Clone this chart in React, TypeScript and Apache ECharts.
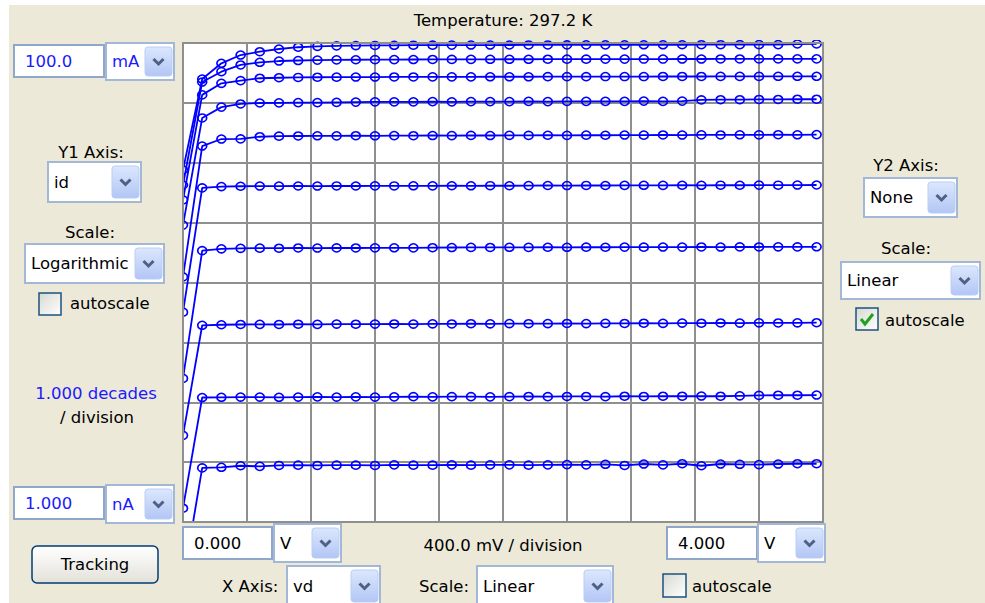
import React, { useEffect, useRef } from 'react';
import * as echarts from 'echarts';

// Drain voltage sweep (V)
const VD = [0, 0.12, 0.24, 0.36, 0.48, 0.6, 0.72, 0.84, 0.96, 1.08, 1.2, 1.32, 1.44, 1.56, 1.68, 1.8, 1.92, 2.04, 2.16, 2.28, 2.4, 2.52, 2.64, 2.76, 2.88, 3.0, 3.12, 3.24, 3.36, 3.48, 3.6, 3.72, 3.84, 3.96];

// Drain current (A), one array per gate step, bottom to top
const ID1 = [1.0e-10, 8.0e-9, 8.2e-9, 8.7e-9, 8.5e-9, 8.8e-9, 8.9e-9, 8.8e-9, 8.9e-9, 8.9e-9, 8.8e-9, 9.0e-9, 8.9e-9, 8.9e-9, 9.0e-9, 8.9e-9, 9.0e-9, 9.0e-9, 8.9e-9, 9.0e-9, 9.1e-9, 9.0e-9, 9.2e-9, 8.8e-9, 9.3e-9, 9.0e-9, 9.4e-9, 8.7e-9, 9.3e-9, 9.2e-9, 9.1e-9, 9.3e-9, 9.4e-9, 9.4e-9];
const ID2 = [1.7e-9, 1.20e-7, 1.21e-7, 1.22e-7, 1.22e-7, 1.21e-7, 1.22e-7, 1.23e-7, 1.22e-7, 1.23e-7, 1.22e-7, 1.23e-7, 1.24e-7, 1.23e-7, 1.24e-7, 1.24e-7, 1.23e-7, 1.24e-7, 1.25e-7, 1.24e-7, 1.25e-7, 1.25e-7, 1.24e-7, 1.26e-7, 1.25e-7, 1.26e-7, 1.26e-7, 1.27e-7, 1.26e-7, 1.28e-7, 1.30e-7, 1.31e-7, 1.31e-7, 1.32e-7];
const ID3 = [2.8e-8, 1.93e-6, 1.97e-6, 1.99e-6, 2.00e-6, 1.99e-6, 2.01e-6, 2.00e-6, 2.02e-6, 2.01e-6, 2.02e-6, 2.03e-6, 2.02e-6, 2.04e-6, 2.03e-6, 2.05e-6, 2.04e-6, 2.06e-6, 2.05e-6, 2.06e-6, 2.07e-6, 2.06e-6, 2.08e-6, 2.07e-6, 2.09e-6, 2.08e-6, 2.10e-6, 2.09e-6, 2.11e-6, 2.10e-6, 2.12e-6, 2.11e-6, 2.12e-6, 2.13e-6];
const ID4 = [2.5e-7, 3.40e-5, 3.65e-5, 3.72e-5, 3.75e-5, 3.74e-5, 3.77e-5, 3.76e-5, 3.78e-5, 3.77e-5, 3.79e-5, 3.80e-5, 3.79e-5, 3.81e-5, 3.84e-5, 3.86e-5, 3.85e-5, 3.87e-5, 3.86e-5, 3.88e-5, 3.87e-5, 3.89e-5, 3.88e-5, 3.90e-5, 3.89e-5, 3.91e-5, 3.90e-5, 3.92e-5, 3.91e-5, 3.93e-5, 3.92e-5, 3.94e-5, 3.93e-5, 3.95e-5];
const ID5 = [3.2e-6, 3.80e-4, 4.00e-4, 4.05e-4, 4.08e-4, 4.07e-4, 4.09e-4, 4.08e-4, 4.10e-4, 4.09e-4, 4.11e-4, 4.10e-4, 4.12e-4, 4.11e-4, 4.13e-4, 4.12e-4, 4.14e-4, 4.13e-4, 4.15e-4, 4.17e-4, 4.16e-4, 4.18e-4, 4.17e-4, 4.19e-4, 4.20e-4, 4.19e-4, 4.21e-4, 4.20e-4, 4.22e-4, 4.21e-4, 4.23e-4, 4.22e-4, 4.24e-4, 4.25e-4];
const ID6 = [1.24e-5, 1.90e-3, 2.49e-3, 2.50e-3, 2.72e-3, 2.78e-3, 2.80e-3, 2.82e-3, 2.81e-3, 2.83e-3, 2.82e-3, 2.84e-3, 2.83e-3, 2.85e-3, 2.84e-3, 2.86e-3, 2.85e-3, 2.87e-3, 2.86e-3, 2.88e-3, 2.87e-3, 2.89e-3, 2.88e-3, 2.90e-3, 2.89e-3, 2.91e-3, 2.90e-3, 2.92e-3, 2.91e-3, 2.93e-3, 2.92e-3, 2.94e-3, 2.93e-3, 2.95e-3];
const ID7 = [9.1e-5, 5.6e-3, 8.5e-3, 9.6e-3, 9.95e-3, 1.00e-2, 1.01e-2, 1.01e-2, 1.02e-2, 1.03e-2, 1.04e-2, 1.04e-2, 1.04e-2, 1.05e-2, 1.04e-2, 1.05e-2, 1.05e-2, 1.05e-2, 1.06e-2, 1.05e-2, 1.06e-2, 1.06e-2, 1.06e-2, 1.06e-2, 1.07e-2, 1.06e-2, 1.07e-2, 1.12e-2, 1.13e-2, 1.13e-2, 1.14e-2, 1.14e-2, 1.15e-2, 1.15e-2];
const ID8 = [2.4e-4, 1.36e-2, 2.12e-2, 2.35e-2, 2.58e-2, 2.63e-2, 2.66e-2, 2.68e-2, 2.69e-2, 2.70e-2, 2.70e-2, 2.71e-2, 2.71e-2, 2.72e-2, 2.72e-2, 2.72e-2, 2.73e-2, 2.73e-2, 2.73e-2, 2.74e-2, 2.74e-2, 2.74e-2, 2.75e-2, 2.75e-2, 2.75e-2, 2.76e-2, 2.76e-2, 2.76e-2, 2.77e-2, 2.77e-2, 2.77e-2, 2.78e-2, 2.78e-2, 2.78e-2];
const ID9 = [4.25e-4, 2.23e-2, 3.32e-2, 4.30e-2, 4.76e-2, 5.00e-2, 5.10e-2, 5.18e-2, 5.22e-2, 5.25e-2, 5.27e-2, 5.28e-2, 5.30e-2, 5.31e-2, 5.32e-2, 5.33e-2, 5.34e-2, 5.35e-2, 5.35e-2, 5.36e-2, 5.37e-2, 5.37e-2, 5.38e-2, 5.38e-2, 5.39e-2, 5.39e-2, 5.40e-2, 5.40e-2, 5.41e-2, 5.41e-2, 5.42e-2, 5.42e-2, 5.43e-2, 5.43e-2];
const ID10 = [7.6e-4, 2.50e-2, 4.58e-2, 6.30e-2, 7.16e-2, 7.94e-2, 8.50e-2, 8.80e-2, 8.95e-2, 9.05e-2, 9.10e-2, 9.15e-2, 9.18e-2, 9.20e-2, 9.22e-2, 9.24e-2, 9.25e-2, 9.26e-2, 9.27e-2, 9.28e-2, 9.29e-2, 9.30e-2, 9.31e-2, 9.32e-2, 9.33e-2, 9.34e-2, 9.35e-2, 9.36e-2, 9.37e-2, 9.38e-2, 9.39e-2, 9.40e-2, 9.62e-2, 9.65e-2];
const CURVES = [ID1, ID2, ID3, ID4, ID5, ID6, ID7, ID8, ID9, ID10];

// Axis ranges
const X_MIN = 0;
const X_MAX = 4;
const X_STEP = 0.4;
const Y_MIN = 1e-9;
const Y_MAX = 1e-1;

// UI texts
const TITLE = 'Temperature: 297.2 K';
const Y1_TOP = '100.0';
const Y1_TOP_UNIT = 'mA';
const Y1_BOTTOM = '1.000';
const Y1_BOTTOM_UNIT = 'nA';
const X_LEFT = '0.000';
const X_RIGHT = '4.000';
const X_DIV = '400.0 mV / division';
const Y_DIV = '1.000 decades';

const FONT = '16.5px "DejaVu Sans"';
const BLUE_TEXT = '#1a1aff';
const Z = 100;

function txt(text: string, x: number, y: number, align: string = 'left', color: string = '#000') {
  return {
    type: 'text', x, y, z: Z, silent: true,
    style: { text, fill: color, font: FONT, textAlign: align, textVerticalAlign: 'middle' },
  };
}

function field(x: number, y: number, w: number, h: number, text: string, color: string) {
  return [
    { type: 'rect', z: Z, silent: true, shape: { x, y, width: w, height: h }, style: { fill: '#fff', stroke: '#8FA7C9', lineWidth: 2 } },
    txt(text, x + 11, y + h / 2, 'left', color),
  ];
}

function combo(x: number, y: number, w: number, h: number, text: string, color: string) {
  const bx = x + w - 29;
  const by = y + 4;
  const bh = h - 8;
  const cx = bx + 13.5;
  const cy = by + bh / 2;
  return [
    { type: 'rect', z: Z, silent: true, shape: { x, y, width: w, height: h }, style: { fill: '#fff', stroke: '#A3B7D6', lineWidth: 2 } },
    {
      type: 'rect', z: Z, silent: true, shape: { x: bx, y: by, width: 27, height: bh, r: 3 },
      style: {
        fill: new echarts.graphic.LinearGradient(0, 0, 0, 1, [
          { offset: 0, color: '#DCE7FD' },
          { offset: 1, color: '#B2C6F5' },
        ]),
        stroke: '#BACDF7', lineWidth: 1,
      },
    },
    {
      type: 'polyline', z: Z, silent: true,
      shape: { points: [[cx - 5, cy - 2.5], [cx, cy + 2.5], [cx + 5, cy - 2.5]] },
      style: { stroke: '#4D6185', lineWidth: 3, fill: 'none' },
    },
    txt(text, x + 6, y + h / 2, 'left', color),
  ];
}

function checkbox(x: number, y: number, s: number, checked: boolean) {
  const els: any[] = [
    {
      type: 'rect', z: Z, silent: true, shape: { x, y, width: s, height: s },
      style: {
        fill: new echarts.graphic.LinearGradient(0, 0, 1, 1, [
          { offset: 0, color: '#D8D8D2' },
          { offset: 1, color: '#FFFFFF' },
        ]),
        stroke: '#1C5180', lineWidth: 1.5,
      },
    },
  ];
  if (checked) {
    els.push({
      type: 'polyline', z: Z, silent: true,
      shape: { points: [[x + 5, y + s / 2], [x + 9, y + s - 6], [x + s - 5, y + 6]] },
      style: { stroke: '#21A121', lineWidth: 3, fill: 'none' },
    });
  }
  return els;
}

export default function App() {
  const ref = useRef<HTMLDivElement>(null);

  useEffect(() => {
    if (!ref.current) return;
    const chart = echarts.init(ref.current, undefined, { renderer: 'svg' });

    const gridL = 183, gridT = 43, gridW = 640, gridH = 479;

    const graphic: any[] = [
      // white outer strips
      { type: 'rect', z: Z, silent: true, shape: { x: 0, y: 0, width: 985, height: 5 }, style: { fill: '#fff' } },
      { type: 'rect', z: Z, silent: true, shape: { x: 0, y: 0, width: 9, height: 603 }, style: { fill: '#fff' } },
      // covers for markers spilling outside the plot
      { type: 'rect', z: Z, silent: true, shape: { x: 175, y: 38, width: 7.5, height: 490 }, style: { fill: '#ECE9D8' } },
      { type: 'rect', z: Z, silent: true, shape: { x: 175, y: 34, width: 655, height: 6 }, style: { fill: '#ECE9D8' } },
      // plot border
      { type: 'rect', z: Z, silent: true, shape: { x: gridL, y: gridT, width: gridW, height: gridH }, style: { fill: 'none', stroke: '#8f8f8f', lineWidth: 2 } },
      txt(TITLE, 503, 20, 'center'),

      // left panel
      ...field(14, 45, 90, 32, Y1_TOP, BLUE_TEXT),
      ...combo(106, 43, 68, 37, Y1_TOP_UNIT, BLUE_TEXT),
      txt('Y1 Axis:', 91, 152, 'center'),
      ...combo(48, 162, 93, 40, 'id', '#000'),
      txt('Scale:', 90, 232, 'center'),
      ...combo(25, 244, 139, 39, 'Logarithmic', '#000'),
      ...checkbox(39, 293, 22, false),
      txt('autoscale', 70, 303),
      txt(Y_DIV, 96, 393, 'center', BLUE_TEXT),
      txt('/ division', 97, 417, 'center'),
      ...field(14, 487, 90, 32, Y1_BOTTOM, BLUE_TEXT),
      ...combo(106, 485, 68, 38, Y1_BOTTOM_UNIT, BLUE_TEXT),
      {
        type: 'rect', z: Z, silent: true, shape: { x: 32, y: 546, width: 126, height: 37, r: 5 },
        style: {
          fill: new echarts.graphic.LinearGradient(0, 0, 0, 1, [
            { offset: 0, color: '#FFFFFF' },
            { offset: 1, color: '#E2E1D9' },
          ]),
          stroke: '#003C74', lineWidth: 1.5,
        },
      },
      txt('Tracking', 95, 564, 'center'),

      // bottom panel
      ...field(183, 527, 89, 32, X_LEFT, '#000'),
      ...combo(274, 524, 67, 38, 'V', '#000'),
      txt(X_DIV, 503, 545, 'center'),
      ...field(667, 527, 90, 32, X_RIGHT, '#000'),
      ...combo(758, 524, 67, 38, 'V', '#000'),
      txt('X Axis:', 222, 586),
      ...combo(287, 566, 93, 40, 'vd', '#000'),
      txt('Scale:', 419, 586),
      ...combo(477, 566, 136, 40, 'Linear', '#000'),
      ...checkbox(663, 574, 23, false),
      txt('autoscale', 692, 586),

      // right panel
      txt('Y2 Axis:', 906, 165, 'center'),
      ...combo(864, 178, 93, 39, 'None', '#000'),
      txt('Scale:', 906, 248, 'center'),
      ...combo(841, 262, 139, 37, 'Linear', '#000'),
      ...checkbox(856, 308, 22, true),
      txt('autoscale', 885, 320),
    ];

    chart.setOption({
      animation: false,
      backgroundColor: '#ECE9D8',
      grid: {
        left: gridL, top: gridT, width: gridW, height: gridH,
        show: true, backgroundColor: '#fff', borderWidth: 0,
      },
      xAxis: {
        type: 'value', min: X_MIN, max: X_MAX, interval: X_STEP,
        axisLine: { show: false }, axisTick: { show: false }, axisLabel: { show: false },
        splitLine: { show: true, lineStyle: { color: '#8f8f8f', width: 2 } },
      },
      yAxis: {
        type: 'log', logBase: 10, min: Y_MIN, max: Y_MAX, splitNumber: 8,
        axisLine: { show: false }, axisTick: { show: false }, axisLabel: { show: false },
        splitLine: { show: true, lineStyle: { color: '#8f8f8f', width: 2 } },
      },
      series: CURVES.map((c) => ({
        type: 'line',
        data: VD.map((v, i) => [v, c[i]]),
        symbol: 'circle',
        symbolSize: [9, 8],
        showSymbol: true,
        showAllSymbol: true,
        clip: true,
        silent: true,
        lineStyle: { color: '#0000ff', width: 1.8 },
        itemStyle: { color: 'rgba(0,0,0,0)', borderColor: '#0000ff', borderWidth: 1.6 },
      })),
      graphic,
    });

    return () => chart.dispose();
  }, []);

  return <div ref={ref} style={{ position: 'absolute', left: 0, top: 0, width: '985px', height: '603px' }} />;
}
